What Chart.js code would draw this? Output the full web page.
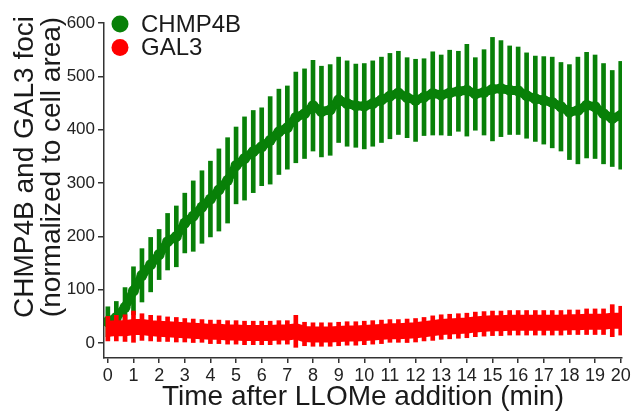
<!DOCTYPE html>
<html><head><meta charset="utf-8">
<script src="https://cdn.jsdelivr.net/npm/chart.js@4.4.1/dist/chart.umd.min.js"></script>
<style>html,body{margin:0;padding:0;background:#fff;overflow:hidden}#wrap{width:633px;height:411px;position:relative}</style>
</head><body><div id="wrap"><canvas id="c" width="633" height="411"></canvas></div>
<script>
const times = [0,0.33,0.67,1,1.33,1.67,2,2.33,2.67,3,3.33,3.67,4,4.33,4.67,5,5.33,5.67,6,6.33,6.67,7,7.33,7.67,8,8.33,8.67,9,9.33,9.67,10,10.33,10.67,11,11.33,11.67,12,12.33,12.67,13,13.33,13.67,14,14.33,14.67,15,15.33,15.67,16,16.33,16.67,17,17.33,17.67,18,18.33,18.67,19,19.33,19.67,20];
const chmpMean = [40,48,67,98,127,147,166,190,200,225,238,255,270,287,305,333,346,359,368,380,396,404,423,430,445,434,437,456,449,445,444,449,456,463,469,460,455,461,468,465,469,472,474,467,470,476,477,474,473,464,458,455,451,443,433,436,446,443,430,421,427];
const chmpErr = [28,30,37,45,50,51,47,53,57,56,66,68,71,77,80,72,78,77,73,82,80,78,85,84,85,85,85,80,80,78,80,80,80,80,78,75,77,72,78,75,80,75,86,68,80,97,90,83,82,80,80,82,85,83,89,100,99,97,94,90,101];
const galMean = [27,28,28,30,30,28,27,26,25,24,23,22,21,21,20,20,19,19,19,19,20,20,22,17,16,16,16,17,18,18,19,20,21,22,22,23,24,26,28,30,31,32,33,35,36,37,37,38,38,38,38,38,38,38,39,39,40,40,40,42,42];
const galErr = [23,24,25,30,25,24,24,23,23,22,22,22,22,22,22,22,22,22,22,22,22,22,30,22,22,22,22,22,22,22,22,22,22,22,22,22,22,22,23,23,23,23,23,23,23,23,23,23,23,23,23,23,23,23,23,23,24,24,24,30,27];
const seriesNames = ['CHMP4B','GAL3'];
const xTicks = [0,1,2,3,4,5,6,7,8,9,10,11,12,13,14,15,16,17,18,19,20];
const yTicks = [0,100,200,300,400,500,600];
const yTitle = ['CHMP4B and GAL3 foci','(normalized to cell area)'];
const xTitle = 'Time after LLOMe addition (min)';

const GREEN = 'rgb(8,128,8)';
const RED = 'rgb(255,0,0)';
const FAM = '"Liberation Sans", Arial, sans-serif';
const AX = '#333';
Chart.defaults.font.family = FAM;

const pts = (m) => times.map((t,i)=>({x:t,y:m[i]}));
const errs = (m,e) => times.map((t,i)=>({x:t,y:[m[i]-e[i], m[i]+e[i]]}));

const extras = {
  id:'extras',
  afterDraw(chart){
    const ctx = chart.ctx;
    ctx.save();
    const items = [[seriesNames[0],GREEN,24],[seriesNames[1],RED,47.5]];
    ctx.font = '24px ' + FAM;
    ctx.textBaseline = 'middle';
    ctx.textAlign = 'left';
    items.forEach(([lab,col,y])=>{
      ctx.fillStyle = col;
      ctx.beginPath(); ctx.arc(120,y,8.5,0,Math.PI*2); ctx.fill();
      ctx.fillStyle = '#1a1a1a';
      ctx.fillText(lab,141,y+1);
    });
    ctx.font = '28px ' + FAM;
    ctx.textAlign = 'center';
    ctx.fillStyle = '#1a1a1a';
    [[yTitle[0],25],[yTitle[1],52]].forEach(([t,x])=>{
      ctx.save(); ctx.translate(x,167); ctx.rotate(-Math.PI/2); ctx.fillText(t,0,0); ctx.restore();
    });
    ctx.restore();
  }
};

new Chart(document.getElementById('c'), {
  type:'line',
  data:{datasets:[
    {type:'line', label:seriesNames[1], data:pts(galMean), borderColor:RED, backgroundColor:RED, borderWidth:16, pointRadius:0, tension:0, order:0},
    {type:'bar', label:seriesNames[1]+' SD', data:errs(galMean,galErr), backgroundColor:RED, barThickness:4, grouped:false, order:1},
    {type:'line', label:seriesNames[0], data:pts(chmpMean), borderColor:GREEN, backgroundColor:GREEN, borderWidth:9, pointRadius:5.5, pointBorderWidth:0, pointBackgroundColor:GREEN, tension:0, order:2},
    {type:'bar', label:seriesNames[0]+' SD', data:errs(chmpMean,chmpErr), backgroundColor:GREEN, barThickness:4, grouped:false, order:3}
  ]},
  options:{
    responsive:false, animation:false, events:[],
    layout:{padding:{top:23,right:11,left:0,bottom:0}},
    plugins:{legend:{display:false}, tooltip:{enabled:false}},
    scales:{
      x:{type:'linear', min:-0.15, max:20.05, offset:false,
        afterFit(s){s.height=53;},
        afterBuildTicks(s){s.ticks = xTicks.map(v=>({value:v}));},
        ticks:{font:{size:18}, color:'#222', padding:2, maxRotation:0, autoSkip:false},
        grid:{drawOnChartArea:false, offset:false, tickLength:5, color:AX, lineWidth:1.5},
        border:{color:AX, width:1.5},
        title:{display:true, text:xTitle, color:'#1a1a1a', font:{size:28, lineHeight:1.0}, padding:{top:0,bottom:0}}
      },
      y:{type:'linear', min:-28, max:600,
        afterFit(s){s.width=104;},
        afterBuildTicks(s){s.ticks = yTicks.map(v=>({value:v}));},
        ticks:{font:{size:17}, color:'#222', padding:3},
        grid:{drawOnChartArea:false, tickLength:6, color:AX, lineWidth:1.5},
        border:{color:AX, width:1.5}
      }
    }
  },
  plugins:[extras]
});
</script></body></html>
